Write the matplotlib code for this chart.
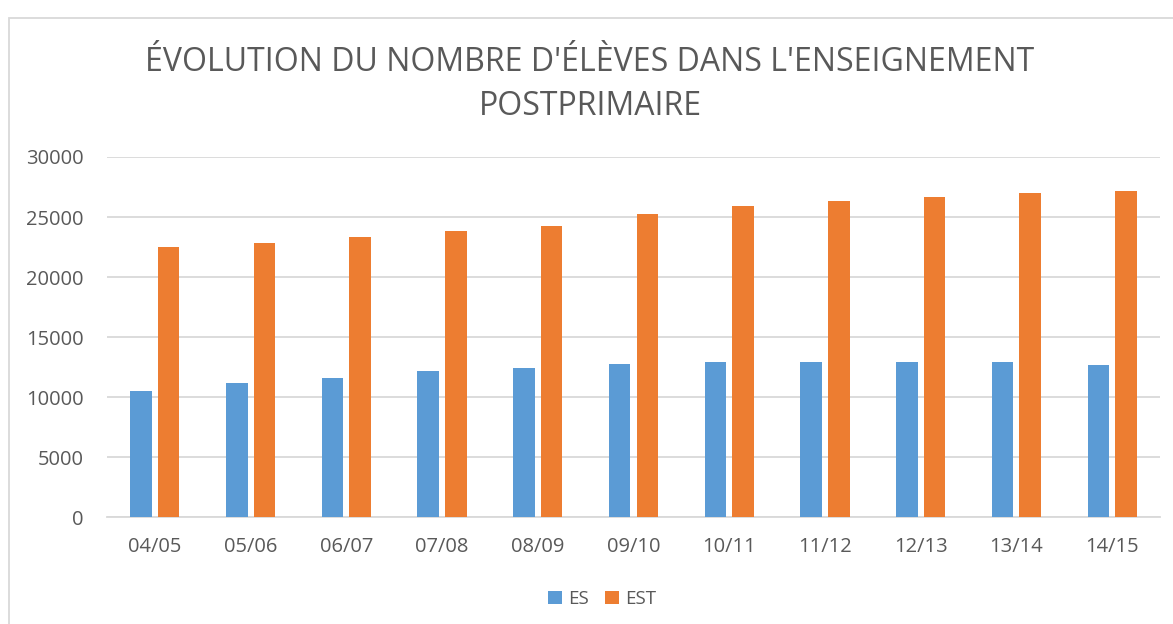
import numpy as np
import matplotlib
matplotlib.use("Agg")
import matplotlib.pyplot as plt
from matplotlib.patches import Rectangle

years = ["04/05", "05/06", "06/07", "07/08", "08/09", "09/10",
         "10/11", "11/12", "12/13", "13/14", "14/15"]
es = [10530, 11190, 11640, 12140, 12470, 12800, 12970, 12970, 12970, 12970, 12640]
est = [22500, 22830, 23310, 23810, 24280, 25250, 25890, 26360, 26690, 27030, 27170]

plt.rcParams['font.family'] = ['Open Sans', 'DejaVu Sans']
txt = '#595959'
grid = '#d9d9d9'

fig = plt.figure(figsize=(11.73, 6.24), dpi=100)
# chart border (right and bottom edges fall outside the picture)
fig.patches.append(Rectangle((9/1173, -0.05), 1.1, 1 - 17.5/624 + 0.05,
                             transform=fig.transFigure, fill=False,
                             edgecolor='#d9d9d9', lw=1.3))

ax = fig.add_axes([107/1173, 1 - 517.3/624, 1053/1173, 360.3/624])
x = np.arange(len(years))
w = 0.225
ax.bar(x - 0.144, es, w, color='#5b9bd5', label='ES', zorder=3)
ax.bar(x + 0.144, est, w, color='#ed7d31', label='EST', zorder=3)

ax.set_ylim(0, 30000)
ax.set_xlim(-0.5, len(years) - 0.5)
ax.set_yticks(range(0, 30001, 5000))
ax.yaxis.grid(True, color=grid, lw=1.3, zorder=0)
ax.set_xticks(x)
ax.set_xticklabels(years)
ax.tick_params(axis='both', length=0, colors=txt, labelsize=14.5)
ax.tick_params(axis='y', pad=17)
ax.tick_params(axis='x', pad=14)
for s in ['top', 'right', 'left']:
    ax.spines[s].set_visible(False)
ax.spines['bottom'].set_color(grid)
ax.spines['bottom'].set_linewidth(1.3)

fig.text(590/1173, 1 - 71/624, "ÉVOLUTION DU NOMBRE D'ÉLÈVES DANS L'ENSEIGNEMENT",
         ha='center', va='baseline', fontsize=23, color=txt)
fig.text(590/1173, 1 - 115/624, "POSTPRIMAIRE",
         ha='center', va='baseline', fontsize=23, color=txt)

fig.legend(loc='center', bbox_to_anchor=(602/1173, 1 - 599/624), ncol=2,
           frameon=False, fontsize=13.5, labelcolor=txt, handlelength=0.75,
           handleheight=0.75, handletextpad=0.3, columnspacing=0.9)

fig.savefig("out.png", dpi=100)
